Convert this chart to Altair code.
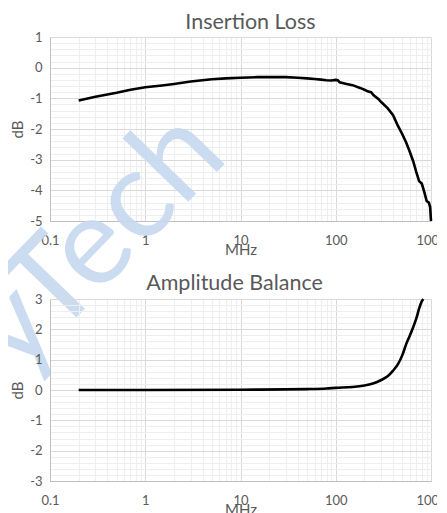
import altair as alt
import pandas as pd

# ---------------- data ----------------
il_freq = [0.2, 0.3, 0.5, 0.7, 1, 1.5, 2, 3, 5, 7, 10, 15, 20, 30, 40, 50, 60, 70,
           80, 90, 100, 105, 110, 130, 150, 180, 200, 220, 235, 250, 280, 300, 350,
           400, 450, 500, 550, 600, 650, 700, 750, 800, 850, 900, 950, 980, 1000]
il_db = [-1.07, -0.95, -0.82, -0.72, -0.64, -0.58, -0.53, -0.45, -0.38, -0.35, -0.33,
         -0.31, -0.31, -0.31, -0.33, -0.35, -0.37, -0.39, -0.41, -0.42, -0.40, -0.41,
         -0.48, -0.53, -0.57, -0.66, -0.72, -0.78, -0.80, -0.90, -1.02, -1.12, -1.32,
         -1.55, -1.90, -2.17, -2.45, -2.75, -3.05, -3.40, -3.70, -3.78, -4.05, -4.35,
         -4.40, -4.55, -5.00]

ab_freq = [0.2, 1, 10, 30, 50, 80, 100, 150, 200, 250, 300, 350, 400, 450, 500,
           550, 600, 650, 700, 750, 800, 830]
ab_db = [0.0, 0.0, 0.01, 0.02, 0.03, 0.05, 0.07, 0.10, 0.15, 0.22, 0.33, 0.45,
         0.64, 0.85, 1.15, 1.52, 1.80, 2.07, 2.35, 2.68, 2.92, 3.0]

x_decades = [0.1, 1, 10, 100, 1000]
x_mult = [1, 2, 3, 4, 5, 6, 7, 8, 9]
il_range = [-5, 1]
ab_range = [-3, 3]
titles = ["Insertion Loss", "Amplitude Balance"]
watermark_text = "yTech"

# ---------------- tick / grid values ----------------
x_grid = sorted(set([round(d * m, 6) for d in x_decades[:-1] for m in x_mult] + [x_decades[-1]]))
il_y_grid = [round(il_range[0] + 0.2 * i, 1) for i in range(31)]
ab_y_grid = [round(ab_range[0] + 0.2 * i, 1) for i in range(31)]

GRID_MAJOR = "#d9d9d9"
GRID_MINOR = "#eeeeee"
AXIS_LINE = "#bfbfbf"
TEXT = "#595959"
FONT = "Lato"
W, H1, H2 = 381, 184, 182

x_major = "abs(log(datum.value)/LN10 - round(log(datum.value)/LN10)) < 0.001"
y_major = "abs(datum.value - round(datum.value)) < 0.001"


def x_axis():
    return alt.Axis(
        values=x_grid, title="MHz",
        labelExpr=f"({x_major}) ? '' + datum.value : ''",
        gridColor={"condition": {"test": x_major, "value": GRID_MAJOR}, "value": GRID_MINOR},
        ticks=False, tickSize=0, domainColor=AXIS_LINE, labelPadding=13,
        titleY=33, titleBaseline="alphabetic",
        labelFlush=False, labelOverlap=False, labelBound=False,
    )


def y_axis(vals):
    return alt.Axis(
        values=vals, title="dB",
        labelExpr=f"({y_major}) ? '' + round(datum.value) : ''",
        gridColor={"condition": {"test": y_major, "value": GRID_MAJOR}, "value": GRID_MINOR},
        ticks=False, tickSize=0, domainColor=AXIS_LINE, labelPadding=8, titlePadding=4,
        labelOverlap=False, labelBound=False,
    )


def title_mark(text, dx, dy):
    return alt.Chart(pd.DataFrame({"t": [text]})).mark_text(
        font=FONT, fontSize=21.5, color=TEXT, align="center", baseline="alphabetic",
    ).encode(text="t:N", x=alt.value(W / 2 + dx), y=alt.value(-dy))


xs = alt.Scale(type="log", domain=[x_decades[0], x_decades[-1]], nice=False)

il_df = pd.DataFrame({"f": il_freq, "db": il_db})
ab_df = pd.DataFrame({"f": ab_freq, "db": ab_db})

il_line = alt.Chart(il_df).mark_line(color="black", strokeWidth=2.6).encode(
    x=alt.X("f:Q", scale=xs, axis=x_axis()),
    y=alt.Y("db:Q", scale=alt.Scale(domain=il_range, nice=False), axis=y_axis(il_y_grid)),
)

wm = alt.Chart(pd.DataFrame({"t": [watermark_text]})).mark_text(
    font=FONT, fontSize=124, angle=314, align="left", baseline="alphabetic",
    color="#c6d9f0", opacity=0.9,
).encode(text="t:N", x=alt.value(-32), y=alt.value(341))

top = alt.layer(wm, il_line, title_mark(titles[0], 10, 8)).properties(width=W, height=H1)

ab_line = alt.Chart(ab_df).mark_line(color="black", strokeWidth=2.6, interpolate="monotone").encode(
    x=alt.X("f:Q", scale=xs, axis=x_axis()),
    y=alt.Y("db:Q", scale=alt.Scale(domain=ab_range, nice=False), axis=y_axis(ab_y_grid)),
)

bottom = alt.layer(ab_line, title_mark(titles[1], -6, 9)).properties(width=W, height=H2)

chart = alt.vconcat(top, bottom, spacing=78, bounds="flush").properties(
    padding={"left": -62, "top": 4, "right": -10, "bottom": 0},
    background="white",
).configure_view(stroke=None).configure_axis(
    labelFont=FONT, labelFontSize=13, labelColor=TEXT,
    titleFont=FONT, titleFontSize=15, titleColor=TEXT, titleFontWeight="normal",
)

chart.save("out.html", embed_options={"renderer": "svg", "actions": False})
